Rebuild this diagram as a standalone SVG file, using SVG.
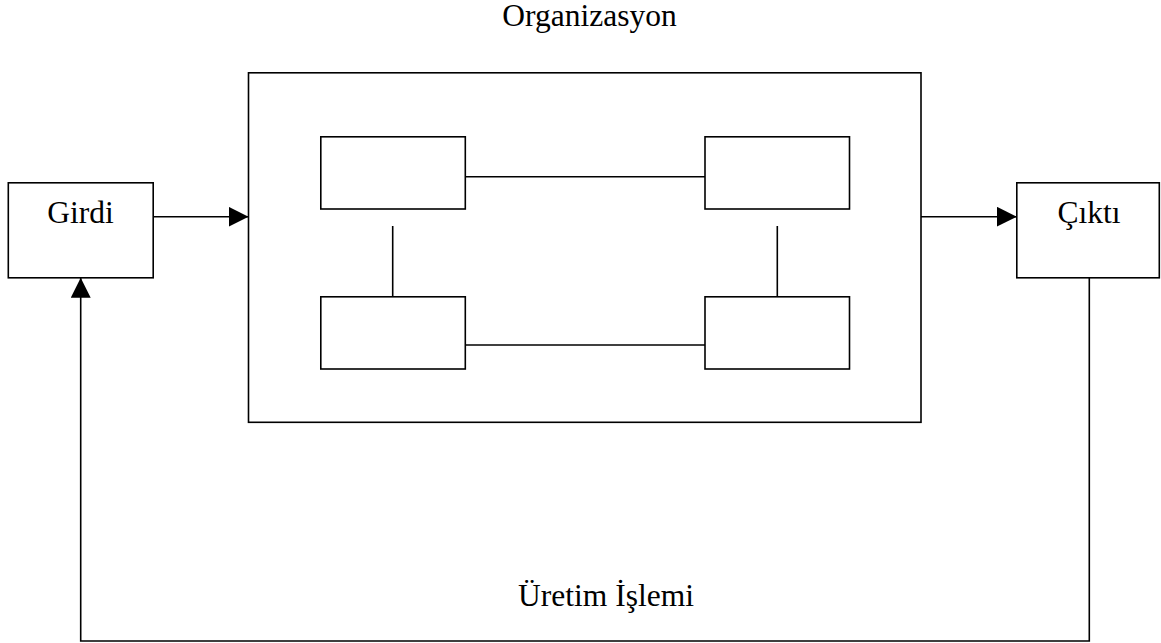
<svg xmlns="http://www.w3.org/2000/svg" width="1161" height="643" viewBox="0 0 1161 643">
  <style>
    .box { fill: #ffffff; stroke: #000000; stroke-width: 1.6; }
    .line { fill: none; stroke: #000000; stroke-width: 1.6; }
    .label { font-family: "Liberation Serif", "Times New Roman", serif; font-size: 31.5px; fill: #000000; text-anchor: middle; }
  </style>
  <defs>
    <marker id="arrow" viewBox="0 0 20 20" refX="20" refY="10" markerWidth="20" markerHeight="20" markerUnits="userSpaceOnUse" orient="auto">
      <path d="M0,0 L20,10 L0,20 Z" fill="#000000"/>
    </marker>
  </defs>

  <rect width="1161" height="643" fill="#ffffff"/>

  <!-- title over the organization frame -->
  <text class="label" x="589.5" y="26">Organizasyon</text>

  <g id="organizasyon">
    <rect class="box" x="248.5" y="72.8" width="672.5" height="349.5"/>
  </g>

  <g id="unit-top-left">
    <rect class="box" x="320.8" y="136.8" width="144.5" height="72.2"/>
  </g>
  <g id="unit-top-right">
    <rect class="box" x="705" y="136.8" width="144.5" height="72.2"/>
  </g>
  <g id="unit-bottom-left">
    <rect class="box" x="320.8" y="296.8" width="144.5" height="72.2"/>
  </g>
  <g id="unit-bottom-right">
    <rect class="box" x="705" y="296.8" width="144.5" height="72.2"/>
  </g>

  <g id="girdi">
    <rect class="box" x="8.3" y="182.8" width="144.9" height="95"/>
    <text class="label" x="80.5" y="222.7">Girdi</text>
  </g>

  <g id="cikti">
    <rect class="box" x="1016.8" y="182.8" width="142.5" height="95"/>
    <text class="label" x="1089" y="222.7">Çıktı</text>
  </g>

  <g id="connectors">
    <!-- internal links -->
    <line class="line" x1="465.3" y1="176.8" x2="705" y2="176.8"/>
    <line class="line" x1="465.3" y1="345" x2="705" y2="345"/>
    <line class="line" x1="392.7" y1="226" x2="392.7" y2="296.8"/>
    <line class="line" x1="777.3" y1="226" x2="777.3" y2="296.8"/>
    <!-- flow -->
    <line class="line" x1="153.2" y1="216.7" x2="248.5" y2="216.7" marker-end="url(#arrow)"/>
    <line class="line" x1="921" y1="216.7" x2="1016.8" y2="216.7" marker-end="url(#arrow)"/>
    <!-- feedback loop -->
    <polyline class="line" points="1089.3,277.8 1089.3,641 80.7,641 80.7,277.8" marker-end="url(#arrow)"/>
  </g>

  <text class="label" x="606" y="605.7">Üretim İşlemi</text>
</svg>
